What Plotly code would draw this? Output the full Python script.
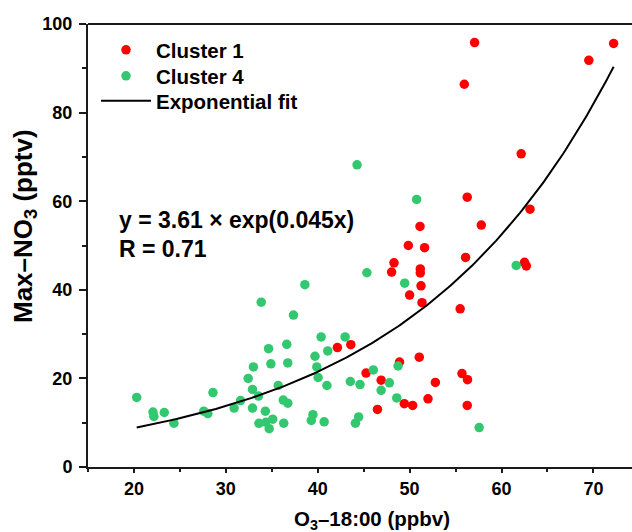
import numpy as np
import plotly.graph_objects as go

# ---- data ----
c1_x = [57.07, 72.2, 69.5, 55.95, 62.14, 56.27, 63.1, 51.13, 57.8, 49.86, 51.63, 56.09,
        48.3, 48.04, 51.16, 51.16, 62.5, 62.7, 51.24, 50.0, 51.35, 55.5, 51.05, 48.9,
        45.26, 46.9, 55.7, 56.3, 52.8, 52.0, 49.42, 50.33, 46.5, 56.27, 42.14, 43.6]
c1_y = [95.8, 95.6, 91.8, 86.4, 70.7, 60.9, 58.2, 54.3, 54.6, 50.0, 49.5, 47.3,
        46.1, 44.0, 44.7, 43.8, 46.2, 45.4, 40.9, 38.8, 37.1, 35.7, 24.8, 23.7,
        21.2, 19.6, 21.1, 19.7, 19.1, 15.4, 14.3, 13.9, 13.0, 13.9, 26.95, 27.6]

c4_x = [20.3, 22.07, 22.17, 23.3, 24.35, 27.6, 28.04, 28.6, 30.9, 31.6, 32.43, 32.9,
        32.9, 33.0, 33.55, 33.6, 33.85, 34.3, 34.35, 34.65, 34.72, 34.9, 35.1, 35.7,
        36.25, 36.3, 36.63, 36.74, 36.74, 37.36, 38.6, 39.3, 39.48, 39.7, 39.9, 40.04,
        40.37, 40.7, 41.0, 41.09, 42.98, 43.55, 44.1, 44.28, 44.45, 44.6, 45.35, 46.05,
        46.9, 47.8, 48.6, 48.74, 49.46, 50.76, 57.57, 61.6]
c4_y = [15.7, 12.4, 11.4, 12.3, 9.9, 12.6, 12.05, 16.8, 13.3, 15.0, 20.0, 17.5,
        13.3, 22.6, 16.0, 9.85, 37.2, 12.6, 10.1, 26.7, 8.65, 23.3, 10.8, 18.4,
        15.1, 9.9, 27.7, 23.5, 14.4, 34.3, 41.15, 10.5, 11.8, 25.0, 22.6, 20.2,
        29.35, 10.2, 18.4, 26.2, 29.35, 19.3, 9.9, 68.2, 11.3, 18.6, 43.85, 21.9,
        17.3, 19.0, 15.6, 22.8, 41.5, 60.4, 8.9, 45.5]

# exponential fit parameters (y = a * exp(b x)), as shown on the chart
FIT_A = 3.61
FIT_B = 0.0446

x_ticks = [20, 30, 40, 50, 60, 70]
y_ticks = [0, 20, 40, 60, 80, 100]

RED = "#FF0000"
GREEN = "#33C870"
FONT = "Liberation Sans, Arial, sans-serif"

all_x = c1_x + c4_x
fit_x = np.linspace(min(all_x), max(all_x), 200)
fit_y = FIT_A * np.exp(FIT_B * fit_x)

fig = go.Figure()
fig.add_trace(go.Scatter(x=c1_x, y=c1_y, mode="markers", name="Cluster 1", legend="legend",
                         marker=dict(color=RED, size=9.5, line=dict(width=0))))
fig.add_trace(go.Scatter(x=c4_x, y=c4_y, mode="markers", name="Cluster 4", legend="legend2",
                         marker=dict(color=GREEN, size=9.5, line=dict(width=0))))
fig.add_trace(go.Scatter(x=fit_x, y=fit_y, mode="lines", name="Exponential fit", legend="legend3",
                         line=dict(color="black", width=2)))

axis_common = dict(showgrid=False, zeroline=False, showline=True, linecolor="#1a1a1a",
                   linewidth=2, ticks="outside", tickcolor="#1a1a1a", tickwidth=1.5,
                   tickfont=dict(family=FONT, size=18, color="black", weight="bold"))

fig.update_xaxes(range=[15, 74.2], tickvals=x_ticks, ticklen=4,
                 minor=dict(dtick=5, tick0=0, ticks="outside", ticklen=3, tickcolor="#1a1a1a", tickwidth=1.5),
                 **axis_common)
fig.update_yaxes(range=[0, 100], tickvals=y_ticks, ticklen=7, ticklabelstandoff=3,
                 minor=dict(dtick=10, tick0=0, ticks="outside", ticklen=4, tickcolor="#1a1a1a", tickwidth=1.5),
                 **axis_common)

fig.add_shape(type="line", xref="paper", yref="paper", x0=0, x1=1, y0=1, y1=1,
              line=dict(color="#1a1a1a", width=2))

fig.add_annotation(text="y = 3.61 × exp(0.045x)", xref="paper", yref="y", x=(117 - 88) / 544, y=55.8,
                   xanchor="left", yanchor="middle", showarrow=False,
                   font=dict(family=FONT, size=23, color="black", weight="bold"))
fig.add_annotation(text="R = 0.71", xref="paper", yref="y", x=(117 - 88) / 544, y=49.3,
                   xanchor="left", yanchor="middle", showarrow=False,
                   font=dict(family=FONT, size=23, color="black", weight="bold"))

fig.add_annotation(text="O<sub>3</sub>–18:00 (ppbv)", xref="paper", yref="paper",
                   x=(372 - 88) / 544, y=-(520 - 467) / 443, xanchor="center", yanchor="middle",
                   showarrow=False, font=dict(family=FONT, size=20.5, color="black", weight="bold"))
fig.add_annotation(text="Max–NO<sub>3</sub> (pptv)", xref="paper", yref="paper",
                   x=-(88 - 24) / 544, y=(467 - 226) / 443, xanchor="center", yanchor="middle",
                   textangle=-90, showarrow=False,
                   font=dict(family=FONT, size=26, color="black", weight="bold"))

leg_font = dict(family=FONT, size=20.5, color="black", weight="bold")
leg_common = dict(xanchor="left", yanchor="middle", bgcolor="rgba(0,0,0,0)",
                  font=leg_font, itemwidth=50, borderwidth=0)
leg_x = (96 - 88) / 544


def leg_y(py):
    return (467 - py) / 443


fig.update_layout(
    width=632, height=532,
    margin=dict(l=88, r=0, t=24, b=65),
    paper_bgcolor="white", plot_bgcolor="white",
    font=dict(family=FONT, color="black", weight="bold"),
    showlegend=True,
    legend=dict(x=leg_x, y=leg_y(50), **leg_common),
    legend2=dict(x=leg_x, y=leg_y(76), **leg_common),
    legend3=dict(x=leg_x, y=leg_y(101), **leg_common),
)

fig.write_html("out.html", config={"displayModeBar": False},
               post_script="document.body.style.margin='0';")
